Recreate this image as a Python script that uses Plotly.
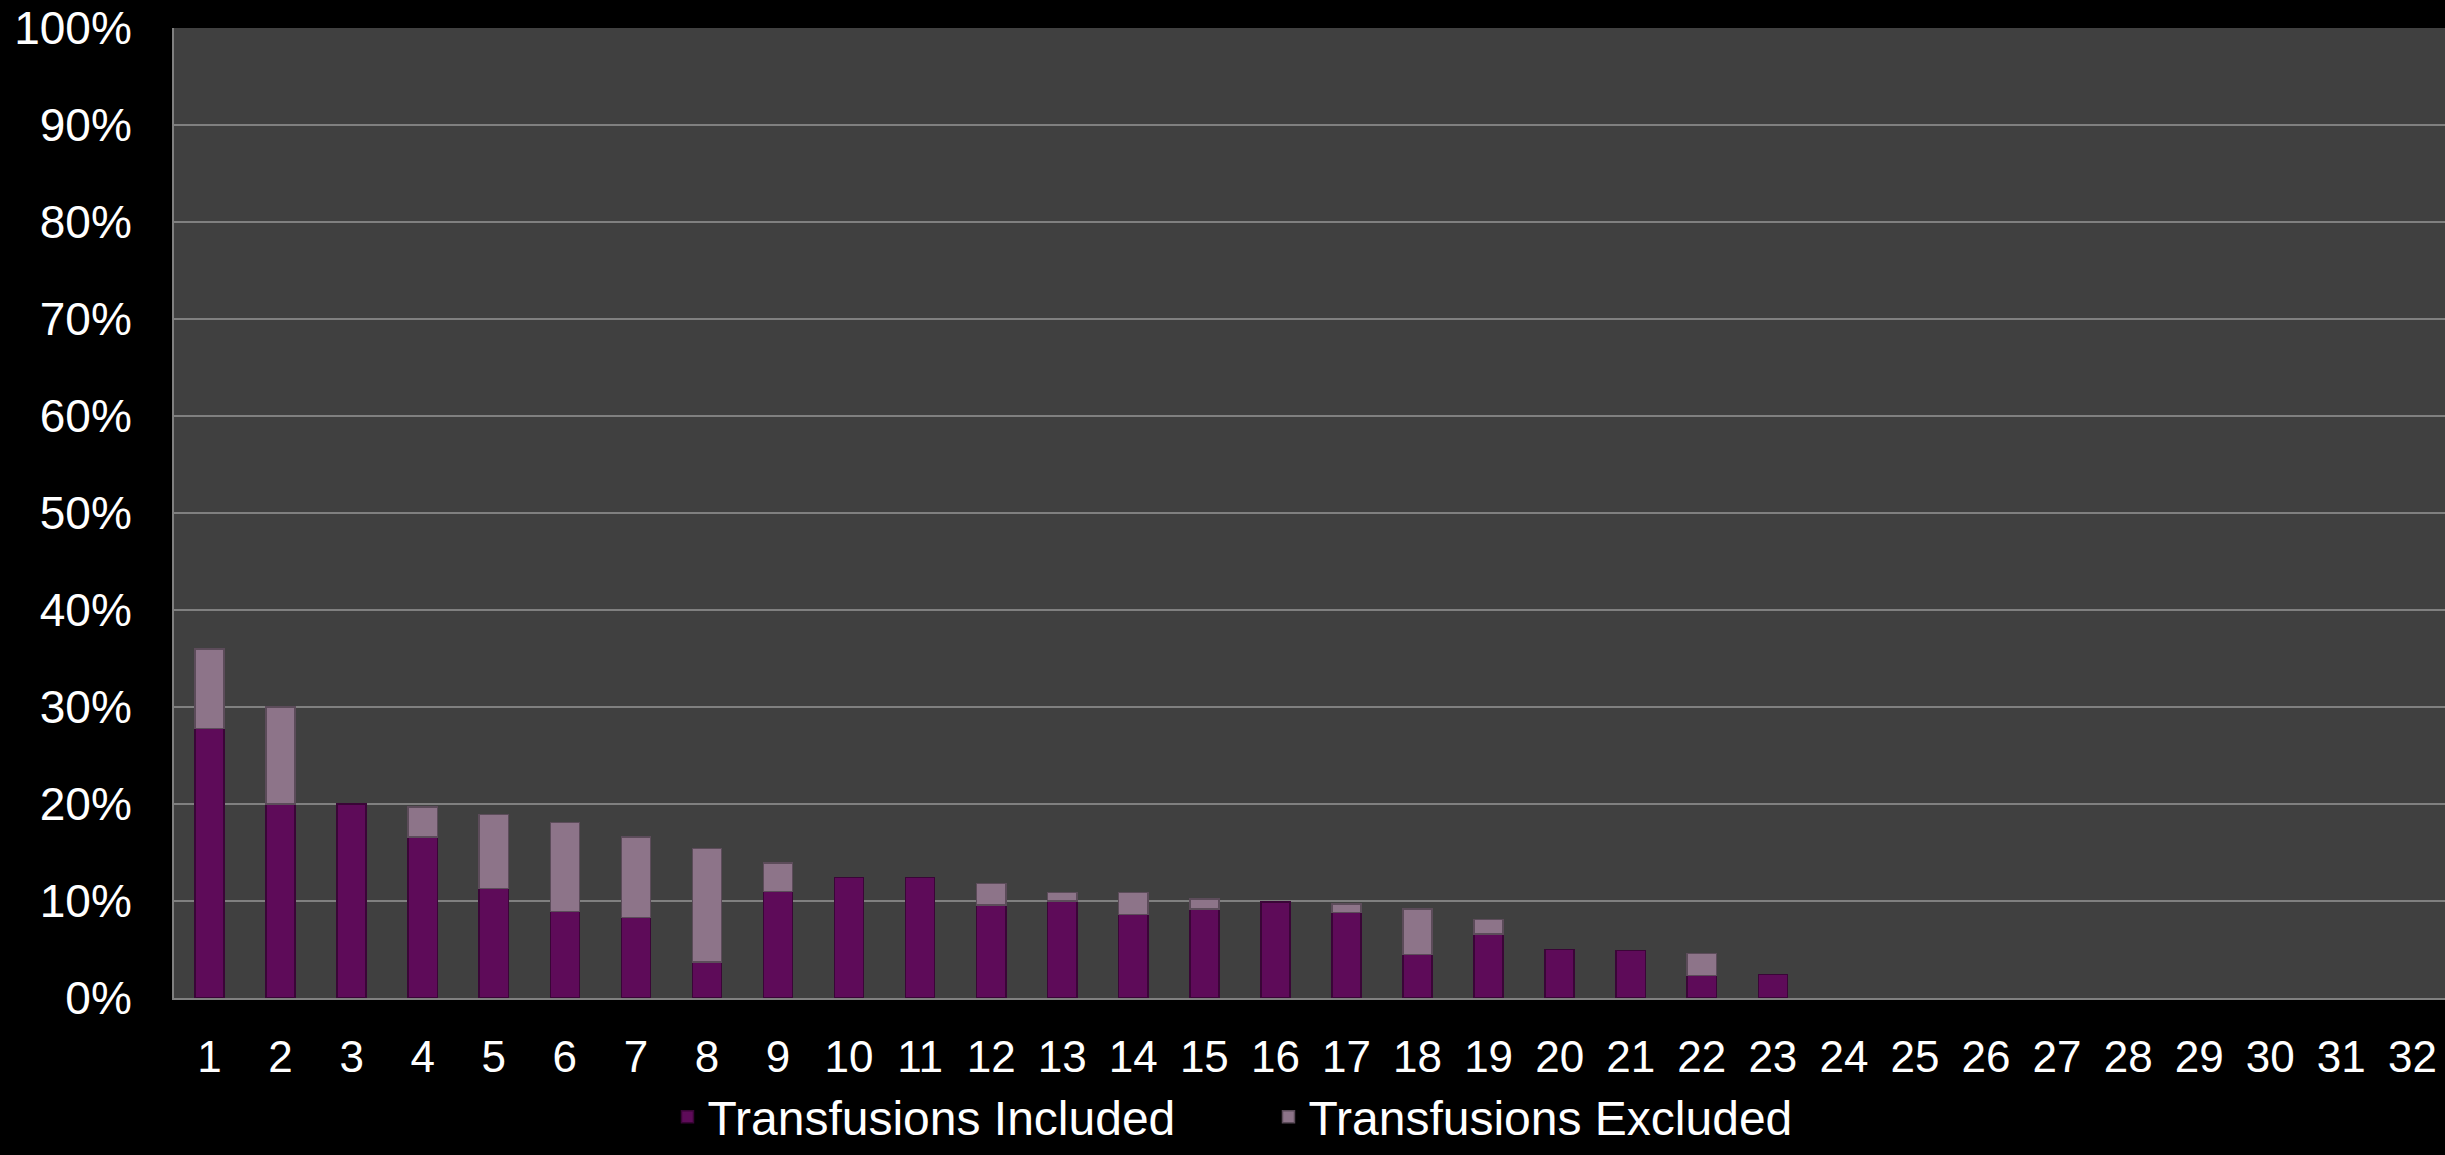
import plotly.graph_objects as go

categories = list(range(1, 33))
included = [0.278, 0.200, 0.200, 0.166, 0.113, 0.089, 0.083, 0.037, 0.110, 0.124,
            0.124, 0.096, 0.100, 0.086, 0.092, 0.099, 0.088, 0.045, 0.066, 0.050,
            0.049, 0.023, 0.024, None, None, None, None, None, None, None, None, None]
excluded = [0.082, 0.100, None, 0.031, 0.076, 0.092, 0.083, 0.117, 0.029, None,
            None, 0.022, 0.009, 0.023, 0.010, None, 0.009, 0.047, 0.015, None,
            None, 0.023, None, None, None, None, None, None, None, None, None, None]
y_ticks = [i / 10 for i in range(11)]

font = "Liberation Sans, Arial, sans-serif"

fig = go.Figure()
fig.add_trace(go.Bar(
    x=categories, y=included, name="Transfusions Included",
    marker=dict(color="#5e0b59", line=dict(color="#3a0537", width=1.5)),
))
fig.add_trace(go.Bar(
    x=categories, y=excluded, name="Transfusions Excluded",
    marker=dict(color="#8d7489", line=dict(color="#5c4c5a", width=1.5)),
))

fig.update_layout(
    barmode="stack",
    bargap=0.59,
    width=2445, height=1155,
    paper_bgcolor="#000000",
    plot_bgcolor="#404040",
    margin=dict(l=174, r=0, t=28, b=157, autoexpand=False),
    font=dict(family=font, color="#ffffff", size=44),
    legend=dict(
        orientation="h",
        xref="container", yref="container",
        x=0.273, xanchor="left",
        y=0.0, yanchor="bottom",
        font=dict(size=48, color="#ffffff"),
        bgcolor="rgba(0,0,0,0)",
        traceorder="normal",
        entrywidth=556,
    ),
    showlegend=True,
)
fig.update_xaxes(
    range=[0.5, 0.5 + 2271 / 71.06],
    tickmode="array", tickvals=categories, ticktext=[str(c) for c in categories],
    showgrid=False, zeroline=False,
    showline=True, linecolor="#808080", linewidth=2,
    ticks="", ticklabelstandoff=19,
    tickfont=dict(size=44, color="#ffffff", family=font),
)
fig.update_yaxes(
    range=[0, 1],
    tickmode="array", tickvals=y_ticks, tickformat=".0%",
    showgrid=True, gridcolor="#808080", gridwidth=2,
    zeroline=False,
    showline=True, linecolor="#808080", linewidth=2,
    ticks="", ticklabelstandoff=31,
    tickfont=dict(size=46, color="#ffffff", family=font),
)

fig.write_html("out.html")
